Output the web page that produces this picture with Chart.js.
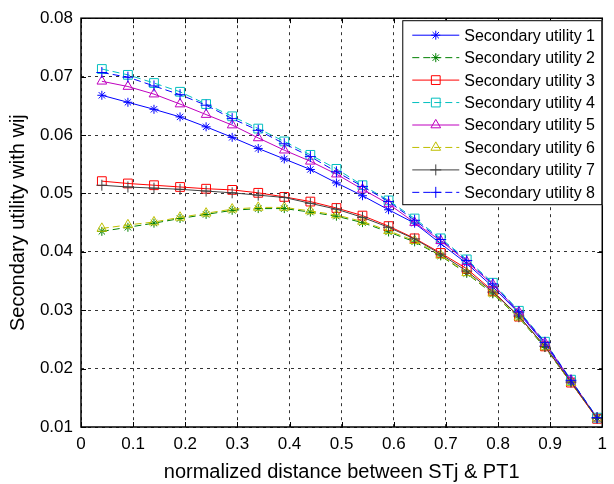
<!DOCTYPE html>
<html>
<head>
<meta charset="utf-8">
<title>Secondary utility with wij</title>
<script src="https://cdn.jsdelivr.net/npm/chart.js@4.4.1/dist/chart.umd.min.js"></script>
<style>
    html, body { margin: 0; padding: 0; background: #ffffff; }
    #chartWrap { width: 614px; height: 484px; }
</style>
</head>
<body>
<div id="chartWrap"><canvas id="utilityChartCanvas" width="614" height="484"></canvas></div>
<script>
// x positions of the samples (normalized distance)
const distances = [0.04, 0.09, 0.14, 0.19, 0.24, 0.29, 0.34, 0.39, 0.44, 0.49,
                   0.54, 0.59, 0.64, 0.69, 0.74, 0.79, 0.84, 0.89, 0.94, 0.99];

// values, one array per secondary user
const utility1 = [0.0668, 0.0656, 0.0644, 0.0631, 0.0614, 0.0596, 0.0577, 0.0559, 0.0541, 0.0518,
                  0.0496, 0.0472, 0.0449, 0.0414, 0.0380, 0.0340, 0.0295, 0.0242, 0.0179, 0.0115];
const utility2 = [0.0435, 0.0442, 0.0449, 0.0457, 0.0464, 0.0471, 0.0474, 0.0474, 0.0468, 0.0461,
                  0.0450, 0.0434, 0.0417, 0.0393, 0.0363, 0.0328, 0.0287, 0.0236, 0.0176, 0.0115];
const utility3 = [0.0521, 0.0517, 0.0514, 0.0511, 0.0508, 0.0506, 0.0501, 0.0494, 0.0486, 0.0475,
                  0.0462, 0.0444, 0.0423, 0.0398, 0.0371, 0.0333, 0.0289, 0.0238, 0.0176, 0.0114];
const utility4 = [0.0713, 0.0703, 0.0689, 0.0674, 0.0653, 0.0632, 0.0611, 0.0589, 0.0566, 0.0542,
                  0.0514, 0.0488, 0.0457, 0.0423, 0.0387, 0.0347, 0.0299, 0.0246, 0.0181, 0.0116];
const utility5 = [0.0692, 0.0683, 0.0670, 0.0653, 0.0635, 0.0617, 0.0595, 0.0574, 0.0555, 0.0533,
                  0.0507, 0.0482, 0.0450, 0.0419, 0.0383, 0.0344, 0.0297, 0.0244, 0.0180, 0.0115];
const utility6 = [0.0440, 0.0446, 0.0451, 0.0459, 0.0466, 0.0473, 0.0476, 0.0476, 0.0470, 0.0463,
                  0.0452, 0.0436, 0.0419, 0.0394, 0.0364, 0.0329, 0.0288, 0.0237, 0.0176, 0.0115];
const utility7 = [0.0514, 0.0511, 0.0509, 0.0507, 0.0504, 0.0501, 0.0497, 0.0493, 0.0483, 0.0473,
                  0.0459, 0.0442, 0.0422, 0.0396, 0.0367, 0.0331, 0.0290, 0.0238, 0.0177, 0.0115];
const utility8 = [0.0707, 0.0699, 0.0684, 0.0669, 0.0651, 0.0628, 0.0608, 0.0585, 0.0563, 0.0537,
                  0.0512, 0.0486, 0.0454, 0.0421, 0.0385, 0.0345, 0.0297, 0.0245, 0.0180, 0.0116];

const seriesLabels = ['Secondary utility 1', 'Secondary utility 2', 'Secondary utility 3', 'Secondary utility 4',
                      'Secondary utility 5', 'Secondary utility 6', 'Secondary utility 7', 'Secondary utility 8'];

const xTickValues = [0, 0.1, 0.2, 0.3, 0.4, 0.5, 0.6, 0.7, 0.8, 0.9, 1];
const yTickValues = [0.01, 0.02, 0.03, 0.04, 0.05, 0.06, 0.07, 0.08];

document.addEventListener('DOMContentLoaded', function () {
    const canvas = document.getElementById('utilityChartCanvas');
    const ctx = canvas.getContext('2d');

    const allValues = [utility1, utility2, utility3, utility4, utility5, utility6, utility7, utility8];

    // MATLAB-like line specs: colour, dashed?, marker
    const styles = [
        { color: '#0000ff', dashed: false, marker: 'star', radius: 4.5 },
        { color: '#008000', dashed: true,  marker: 'star', radius: 4.5 },
        { color: '#ff0000', dashed: false, marker: 'rect', radius: 6.2 },
        { color: '#00bfbf', dashed: true,  marker: 'rect', radius: 6.2 },
        { color: '#bf00bf', dashed: false, marker: 'triangle', radius: 5.6 },
        { color: '#bfbf00', dashed: true,  marker: 'triangle', radius: 5.6 },
        { color: '#404040', dashed: false, marker: 'cross', radius: 5.5 },
        { color: '#0000ff', dashed: true,  marker: 'cross', radius: 5.5 }
    ];
    const DASH = [7, 4];

    const datasets = allValues.map((vals, i) => ({
        label: seriesLabels[i],
        data: vals.map((v, k) => ({ x: distances[k], y: v })),
        borderColor: styles[i].color,
        borderWidth: 1,
        borderDash: styles[i].dashed ? DASH : [],
        pointStyle: styles[i].marker,
        pointRadius: styles[i].radius,
        pointBorderColor: styles[i].color,
        pointBackgroundColor: 'rgba(0,0,0,0)',
        pointBorderWidth: 1,
        fill: false,
        tension: 0,
        order: allValues.length - i // last series on top, like MATLAB
    }));

    // small marker painter for the legend
    function drawMarker(c, style, r, x, y) {
        c.beginPath();
        if (style === 'rect') {
            const s = r * Math.SQRT1_2;
            c.rect(x - s, y - s, 2 * s, 2 * s);
        } else if (style === 'triangle') {
            c.moveTo(x, y - r);
            c.lineTo(x + r * 0.866, y + r * 0.5);
            c.lineTo(x - r * 0.866, y + r * 0.5);
            c.closePath();
        } else {
            c.moveTo(x - r, y); c.lineTo(x + r, y);
            c.moveTo(x, y - r); c.lineTo(x, y + r);
            if (style === 'star') {
                const d = r * Math.SQRT1_2;
                c.moveTo(x - d, y - d); c.lineTo(x + d, y + d);
                c.moveTo(x - d, y + d); c.lineTo(x + d, y - d);
            }
        }
        c.stroke();
    }

    // axes frame with inward ticks, then the boxed legend in the top right corner
    const frameAndLegend = {
        id: 'frameAndLegend',
        afterDraw(chart) {
            const c = chart.ctx;
            const area = chart.chartArea;
            const xs = chart.scales.x, ys = chart.scales.y;
            c.save();
            c.setLineDash([]);
            c.strokeStyle = '#000000';
            c.lineWidth = 1;
            xTickValues.forEach(v => {
                const px = Math.round(xs.getPixelForValue(v)) + 0.5;
                c.beginPath();
                c.moveTo(px, area.bottom); c.lineTo(px, area.bottom - 5);
                c.moveTo(px, area.top); c.lineTo(px, area.top + 5);
                c.stroke();
            });
            yTickValues.forEach(v => {
                const py = Math.round(ys.getPixelForValue(v)) + 0.5;
                c.beginPath();
                c.moveTo(area.left, py); c.lineTo(area.left + 5, py);
                c.moveTo(area.right, py); c.lineTo(area.right - 5, py);
                c.stroke();
            });
            c.lineWidth = 1.5;
            c.strokeRect(area.left, area.top, area.right - area.left, area.bottom - area.top);

            // legend box
            const boxW = 200, boxH = 185;
            const bx = area.right - boxW, by = area.top + 2;
            c.fillStyle = '#ffffff';
            c.fillRect(bx, by, boxW, boxH);
            c.lineWidth = 1;
            c.strokeRect(bx + 0.5, by + 0.5, boxW - 1, boxH - 1);
            c.font = '16px Arial, "Liberation Sans", sans-serif';
            c.textBaseline = 'middle';
            c.textAlign = 'left';
            const rowH = 22.45;
            styles.forEach((st, i) => {
                const ry = by + 15 + i * rowH;
                c.strokeStyle = st.color;
                c.lineWidth = 1;
                c.setLineDash(st.dashed ? DASH : []);
                c.beginPath();
                c.moveTo(bx + 10, ry); c.lineTo(bx + 57, ry);
                c.stroke();
                c.setLineDash([]);
                drawMarker(c, st.marker, st.radius, bx + 33.5, ry);
                c.fillStyle = '#000000';
                c.fillText(seriesLabels[i], bx + 62, ry + 1);
            });
            c.restore();
        }
    };

    const tickFont = { family: 'Arial, "Liberation Sans", sans-serif', size: 17 };
    const titleFont = { family: 'Arial, "Liberation Sans", sans-serif', size: 20 };

    new Chart(ctx, {
        type: 'line',
        data: { datasets: datasets },
        options: {
            responsive: false,
            animation: false,
            devicePixelRatio: 1,
            layout: { padding: { left: 0, top: 13, right: 8, bottom: 0 } },
            plugins: { legend: { display: false }, tooltip: { enabled: false } },
            scales: {
                x: {
                    type: 'linear',
                    min: 0,
                    max: 1,
                    afterFit: function (scale) { scale.height = 57; },
                    afterBuildTicks: function (scale) { scale.ticks = xTickValues.map(v => ({ value: v })); },
                    ticks: {
                        color: '#000000',
                        font: tickFont,
                        padding: 7,
                        maxRotation: 0,
                        callback: function (value) { return (value === 0 || value === 1) ? String(value) : value.toFixed(1); }
                    },
                    grid: { color: '#333333', lineWidth: 1, drawTicks: false },
                    border: { display: false, dash: [3, 4] },
                    title: { display: true, text: 'normalized distance between STj & PT1', color: '#000000', font: titleFont, padding: { top: 0, bottom: 0 } }
                },
                y: {
                    type: 'linear',
                    min: 0.01,
                    max: 0.08,
                    afterFit: function (scale) { scale.width = 81; },
                    afterBuildTicks: function (scale) { scale.ticks = yTickValues.map(v => ({ value: v })); },
                    ticks: {
                        color: '#000000',
                        font: tickFont,
                        padding: 8,
                        callback: function (value) { return value.toFixed(2); }
                    },
                    grid: { color: '#333333', lineWidth: 1, drawTicks: false },
                    border: { display: false, dash: [3, 4] },
                    title: { display: true, text: 'Secondary utility with wij', color: '#000000', font: titleFont, padding: { top: 6, bottom: 0 } }
                }
            }
        },
        plugins: [frameAndLegend]
    });
});
</script>
</body>
</html>
